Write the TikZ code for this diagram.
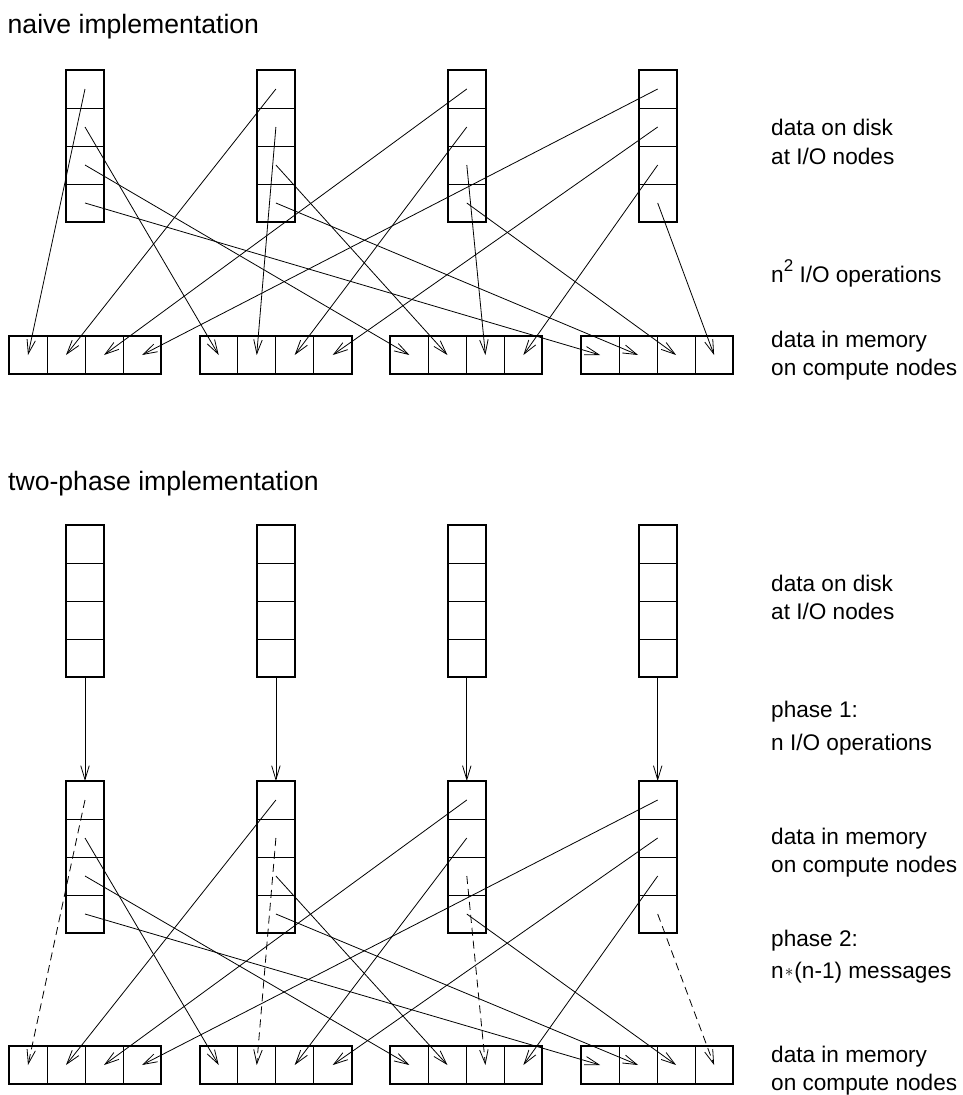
\documentclass[tikz,border=0pt]{standalone}
\usepackage{fontspec}
\setmainfont{Liberation Sans}
\usetikzlibrary{arrows.meta}
\begin{document}
\begin{tikzpicture}[x=1pt,y=-1pt,
  cell/.style={draw, line width=0.9pt, minimum width=38pt, minimum height=38pt, inner sep=0pt, outer sep=0pt},
  colbox/.style={draw, line width=1.9pt, minimum width=38pt, minimum height=152pt, inner sep=0pt, outer sep=0pt},
  rowbox/.style={draw, line width=1.9pt, minimum width=152pt, minimum height=38pt, inner sep=0pt, outer sep=0pt},
  arr/.style={line width=0.8pt, -{Straight Barb[length=14pt,width=8.5pt,line width=0.8pt]}},
  dsh/.style={arr, dash pattern=on 8pt off 5pt},
  lbl/.style={anchor=base west, inner sep=0pt, font=\fontsize{22.6}{27}\selectfont},
  hdr/.style={anchor=base west, inner sep=0pt, font=\fontsize{26.6}{32}\selectfont}]
\useasboundingbox[fill=white] (0,0) rectangle (962,1095);

% ---------- boxes ----------
\foreach \i in {1,...,4} {
  \pgfmathsetmacro\cxc{85+190.9*(\i-1)}
  \pgfmathsetmacro\rxl{9+190.7*(\i-1)}
  \pgfmathsetmacro\rxc{\rxl+76}
  \foreach \k in {1,...,4} {
    \pgfmathsetmacro\dy{38*(\k-1)}
    \pgfmathsetmacro\rcx{\rxl+19+\dy}
    \node[cell] (A\i-\k) at ({\cxc},{89+\dy}) {};
    \node[cell] (B\i-\k) at ({\rcx},355) {};
    \node[cell] (C\i-\k) at ({\cxc},{544+\dy}) {};
    \node[cell] (D\i-\k) at ({\cxc},{800+\dy}) {};
    \node[cell] (E\i-\k) at ({\rcx},1065) {};
  }
  \node[colbox] (A\i) at ({\cxc},146) {};
  \node[rowbox] (B\i) at ({\rxc},355) {};
  \node[colbox] (C\i) at ({\cxc},601) {};
  \node[colbox] (D\i) at ({\cxc},857) {};
  \node[rowbox] (E\i) at ({\rxc},1065) {};
}

% ---------- naive: n^2 transfers ----------
\foreach \i in {1,...,4} {
  \foreach \k in {1,...,4} {
    \draw[arr] (A\i-\k.center) -- (B\k-\i.center);
  }
}

% ---------- two-phase ----------
\foreach \i in {1,...,4} {
  \draw[arr] (C\i.south) -- (D\i.north);
  \foreach \k in {1,...,4} {
    \ifnum\i=\k\relax
      \draw[dsh] (D\i-\k.center) -- (E\k-\i.center);
    \else
      \draw[arr] (D\i-\k.center) -- (E\k-\i.center);
    \fi
  }
}

% ---------- texts ----------
\node[hdr] (h1) at (7.5,33) {naive implementation};
\node[lbl] (t1) at (771,135) {data on disk};
\node[lbl] (t2) at (771,164) {at I/O nodes};
\node[lbl] (t3) at (771,282) {n\raisebox{0.45em}{\fontsize{17}{17}\selectfont 2} I/O operations};
\node[lbl] (t4) at (771,347) {data in memory};
\node[lbl] (t5) at (771,375) {on compute nodes};

\node[hdr] (h2) at (8,490) {two-phase implementation};
\node[lbl] (s1) at (771,591) {data on disk};
\node[lbl] (s2) at (771,619) {at I/O nodes};
\node[lbl] (s3) at (771,717) {phase 1:};
\node[lbl] (s4) at (771,750) {n I/O operations};
\node[lbl] (s5) at (771,844) {data in memory};
\node[lbl] (s6) at (771,872) {on compute nodes};
\node[lbl] (s7) at (771,946) {phase 2:};
\node[lbl] (s8) at (771,978) {n\kern1pt\raisebox{1.5pt}{\fontsize{19}{19}\selectfont$\ast$}\kern1pt(n-1) messages};
\node[lbl] (s9) at (771,1062) {data in memory};
\node[lbl] (s10) at (771,1090) {on compute nodes};
\end{tikzpicture}
\end{document}
